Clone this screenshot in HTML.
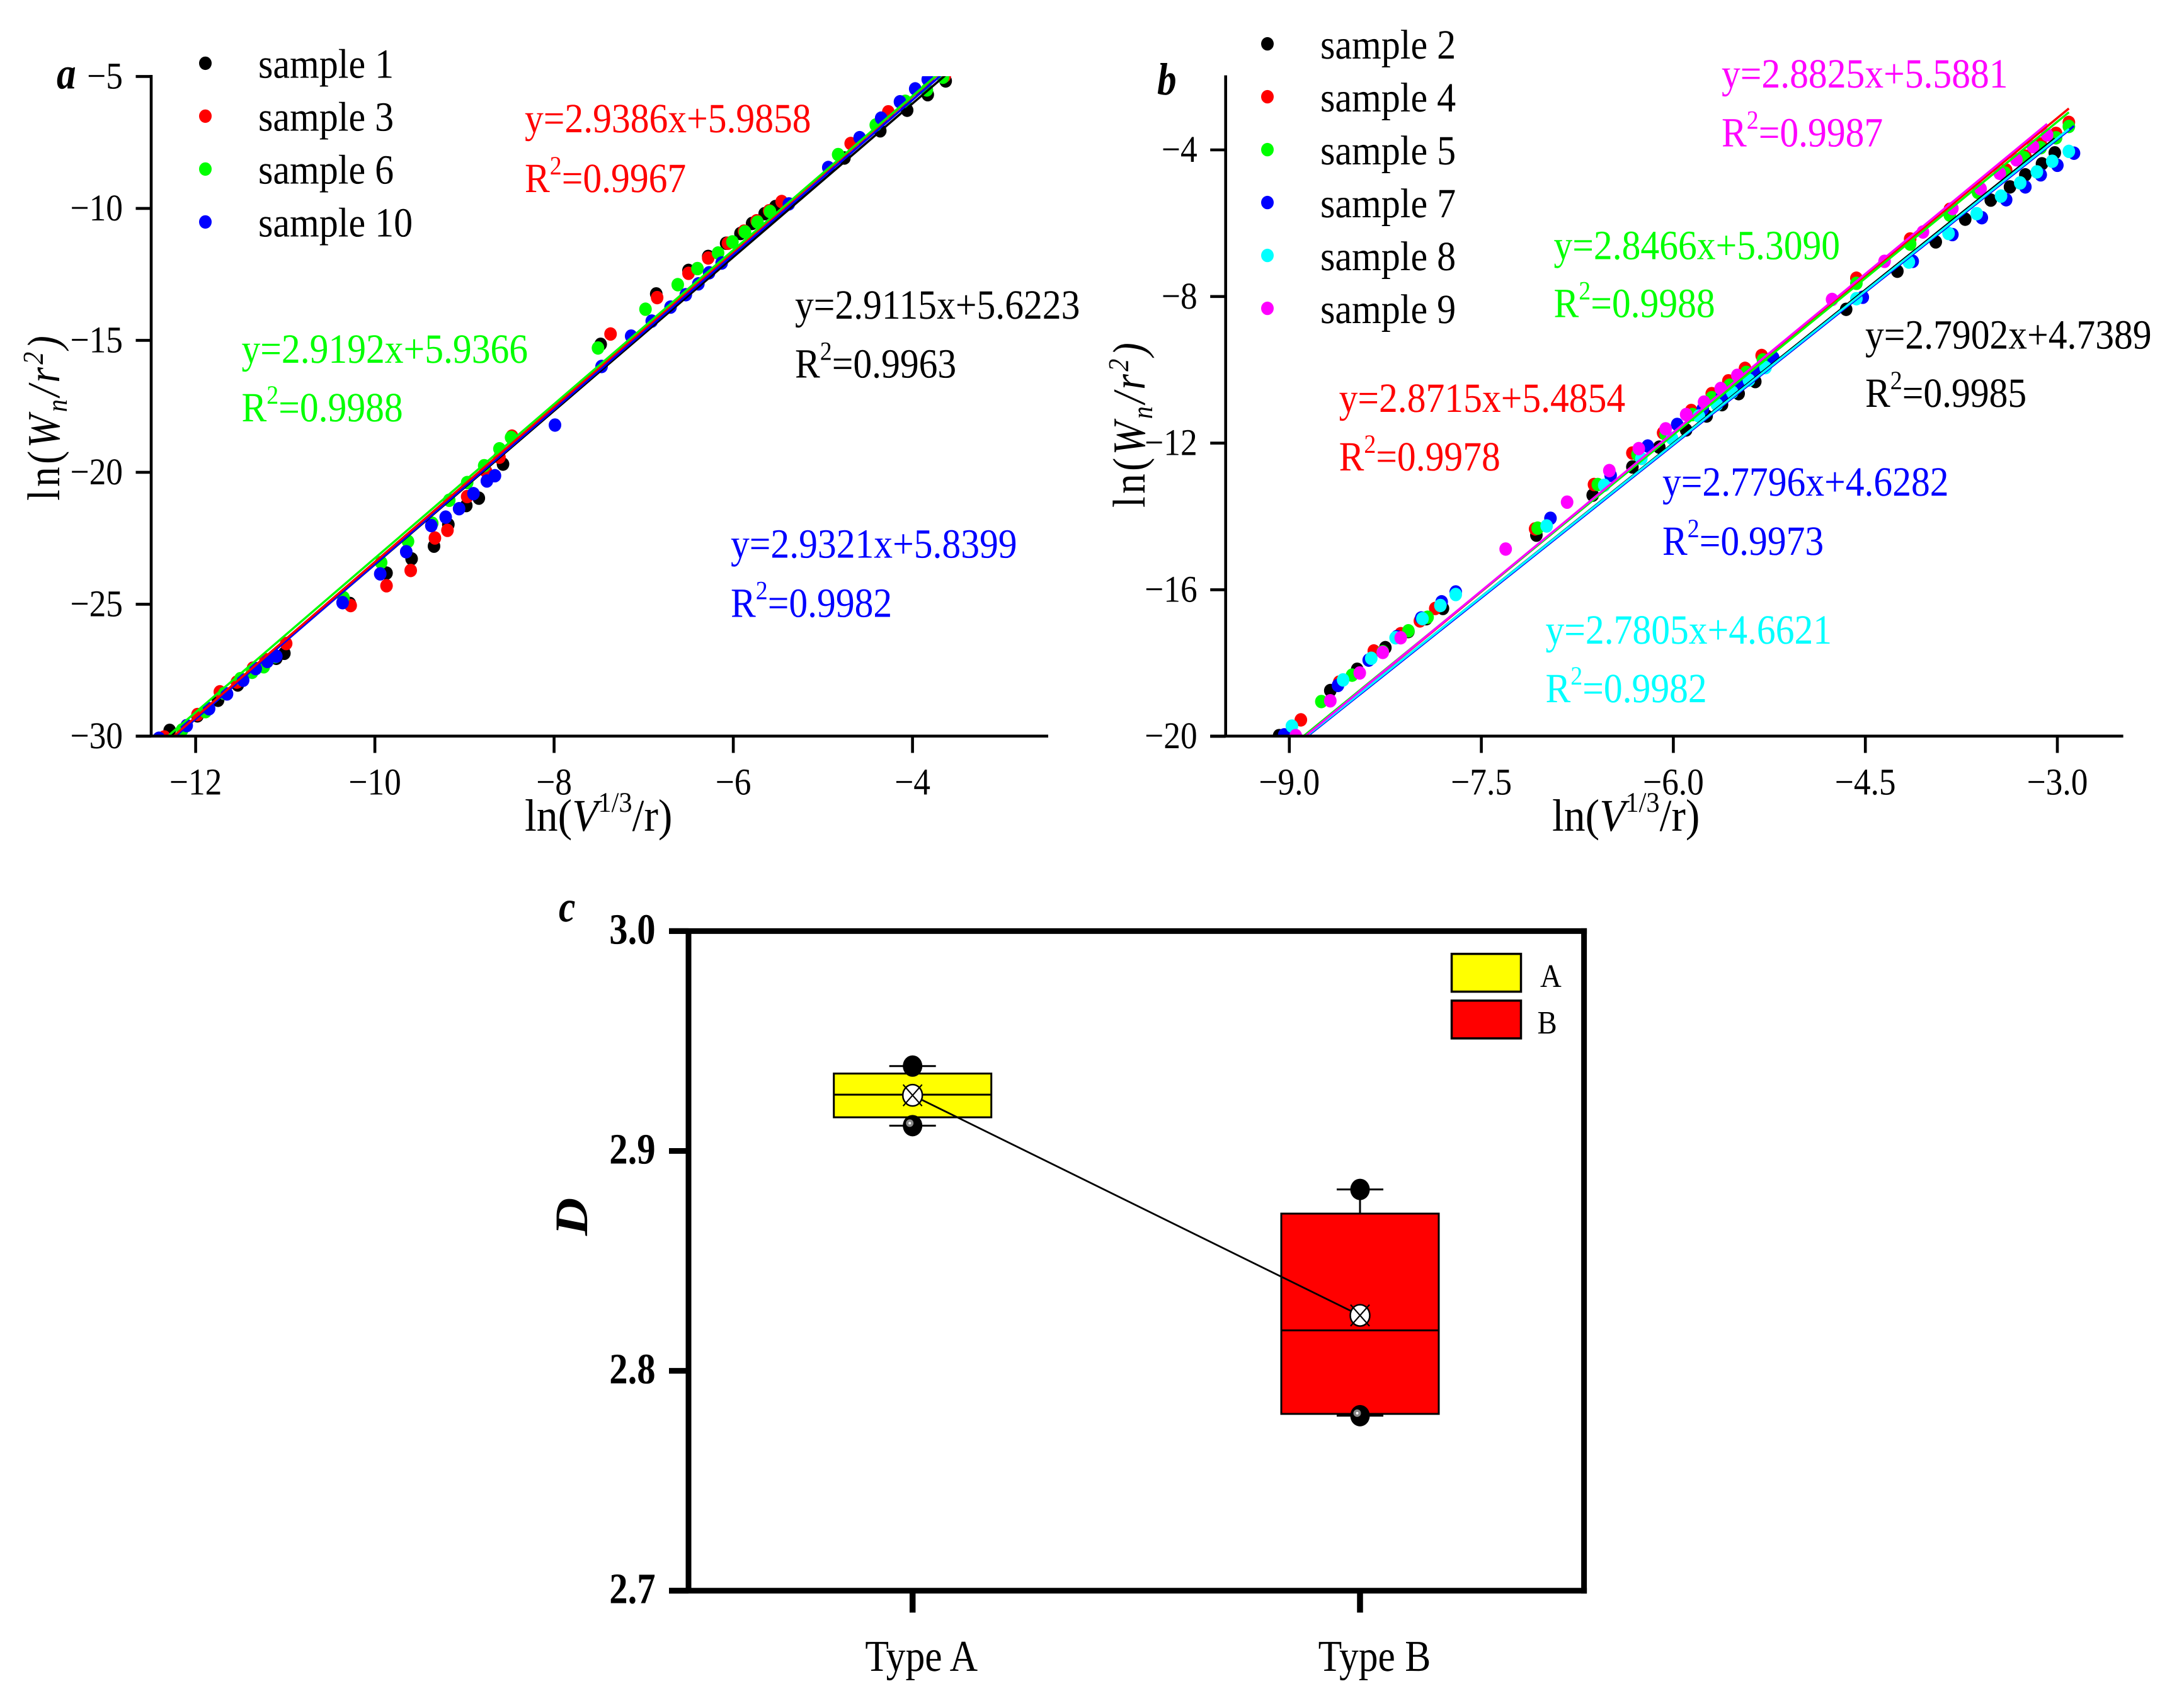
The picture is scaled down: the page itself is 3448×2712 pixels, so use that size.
<!DOCTYPE html>
<html lang="en">
<head>
<meta charset="utf-8">
<title>Fractal dimension fits and D box plot</title>
<style>
html,body{margin:0;padding:0;background:#fff;width:3448px;height:2712px;overflow:hidden}
svg{position:absolute;left:0;top:0;display:block}
text{font-family:"Liberation Serif",serif;fill:#000;text-rendering:geometricPrecision}
.n{font-size:66px}
.i{font-style:italic}
</style>
</head>
<body>
<svg id="fig" xmlns="http://www.w3.org/2000/svg" width="3448" height="2712" viewBox="0 0 3448 2712">
<defs>
<clipPath id="clipA"><rect x="238" y="121" width="1430" height="1048"/></clipPath>
<clipPath id="clipB"><rect x="1944" y="60" width="1430" height="1109"/></clipPath>
</defs>
<rect x="0" y="0" width="3448" height="2712" fill="#fff"/>

<g id="panelA"></g>
<g id="panelB"></g>
<g id="panelC"></g>

<text transform="translate(90,140.6) scale(.85,1)" font-size="72" font-weight="bold" font-style="italic">a</text>
<text transform="translate(1837,150) scale(.85,1)" font-size="72" font-weight="bold" font-style="italic">b</text>
<text transform="translate(887,1463) scale(.85,1)" font-size="70" font-weight="bold" font-style="italic">c</text>

<text transform="translate(94,795) rotate(-90) scale(.87,1)" font-size="73" letter-spacing="5">ln(<tspan class="i">W</tspan><tspan class="i" font-size="46" dy="12">n</tspan><tspan class="i" dy="-12">/r</tspan><tspan class="i" font-size="46" dy="-26">2</tspan><tspan dy="26" class="i">)</tspan></text>
<text transform="translate(1817,806) rotate(-90) scale(.87,1)" font-size="73" letter-spacing="5">ln(<tspan class="i">W</tspan><tspan class="i" font-size="46" dy="12">n</tspan><tspan class="i" dy="-12">/r</tspan><tspan class="i" font-size="46" dy="-26">2</tspan><tspan dy="26" class="i">)</tspan></text>
<text transform="translate(833,1319) scale(.94,1)" font-size="72">ln(<tspan class="i">V</tspan><tspan font-size="45" dy="-30">1/3</tspan><tspan dy="30">/r)</tspan></text>
<text transform="translate(2464,1319) scale(.94,1)" font-size="72">ln(<tspan class="i">V</tspan><tspan font-size="45" dy="-30">1/3</tspan><tspan dy="30">/r)</tspan></text>
<text transform="translate(932,1962) rotate(-90) scale(1.13,1)" font-size="74" font-weight="bold" font-style="italic">D</text>

<!-- panel a annotations -->
<g>
<text class="n" style="fill:#f00" transform="translate(833,210) scale(.903,1)">y=2.9386x+5.9858</text>
<text class="n" style="fill:#f00" transform="translate(833,305) scale(.903,1)">R<tspan font-size="42" dy="-28" style="fill:#f00">2</tspan><tspan dy="28" style="fill:#f00">=0.9967</tspan></text>
</g>
<g>
<text class="n" transform="translate(1262,506) scale(.903,1)">y=2.9115x+5.6223</text>
<text class="n" transform="translate(1262,599.6) scale(.903,1)">R<tspan font-size="42" dy="-28">2</tspan><tspan dy="28">=0.9963</tspan></text>
</g>
<g>
<text class="n" style="fill:#0f0" transform="translate(383.5,576) scale(.903,1)">y=2.9192x+5.9366</text>
<text class="n" style="fill:#0f0" transform="translate(383.5,669) scale(.903,1)">R<tspan font-size="42" dy="-28" style="fill:#0f0">2</tspan><tspan dy="28" style="fill:#0f0">=0.9988</tspan></text>
</g>
<g>
<text class="n" style="fill:#00f" transform="translate(1160,885.7) scale(.903,1)">y=2.9321x+5.8399</text>
<text class="n" style="fill:#00f" transform="translate(1160,979.5) scale(.903,1)">R<tspan font-size="42" dy="-28" style="fill:#00f">2</tspan><tspan dy="28" style="fill:#00f">=0.9982</tspan></text>
</g>

<!-- panel b annotations -->
<g>
<text class="n" style="fill:#f0f" transform="translate(2733,139) scale(.903,1)">y=2.8825x+5.5881</text>
<text class="n" style="fill:#f0f" transform="translate(2733,232.6) scale(.903,1)">R<tspan font-size="42" dy="-28" style="fill:#f0f">2</tspan><tspan dy="28" style="fill:#f0f">=0.9987</tspan></text>
</g>
<g>
<text class="n" style="fill:#0f0" transform="translate(2466.5,411.6) scale(.903,1)">y=2.8466x+5.3090</text>
<text class="n" style="fill:#0f0" transform="translate(2466.5,503.6) scale(.903,1)">R<tspan font-size="42" dy="-28" style="fill:#0f0">2</tspan><tspan dy="28" style="fill:#0f0">=0.9988</tspan></text>
</g>
<g>
<text class="n" transform="translate(2961,553.6) scale(.903,1)">y=2.7902x+4.7389</text>
<text class="n" transform="translate(2961,646) scale(.903,1)">R<tspan font-size="42" dy="-28">2</tspan><tspan dy="28">=0.9985</tspan></text>
</g>
<g>
<text class="n" style="fill:#f00" transform="translate(2125.6,654) scale(.903,1)">y=2.8715x+5.4854</text>
<text class="n" style="fill:#f00" transform="translate(2125.6,747) scale(.903,1)">R<tspan font-size="42" dy="-28" style="fill:#f00">2</tspan><tspan dy="28" style="fill:#f00">=0.9978</tspan></text>
</g>
<g>
<text class="n" style="fill:#00f" transform="translate(2639,787) scale(.903,1)">y=2.7796x+4.6282</text>
<text class="n" style="fill:#00f" transform="translate(2639,881) scale(.903,1)">R<tspan font-size="42" dy="-28" style="fill:#00f">2</tspan><tspan dy="28" style="fill:#00f">=0.9973</tspan></text>
</g>
<g>
<text class="n" style="fill:#0ff" transform="translate(2453.5,1022) scale(.903,1)">y=2.7805x+4.6621</text>
<text class="n" style="fill:#0ff" transform="translate(2453.5,1115) scale(.903,1)">R<tspan font-size="42" dy="-28" style="fill:#0ff">2</tspan><tspan dy="28" style="fill:#0ff">=0.9982</tspan></text>
</g>
</svg>

<script>
// ---------- Panel a data ----------
const sample1X = [-3.63,-3.83,-4.06,-4.36,-4.76,-5.53,-5.65,-5.79,-5.92,-6.08,-6.28,-6.50,-6.86,-7.48,-8.57,-8.84,-8.98,-9.18,-9.34,-9.59,-9.87,-10.28,-11.01,-11.10,-11.53,-11.75,-11.98,-12.29];
const sample1Y = [-5.17,-5.69,-6.28,-7.06,-8.09,-9.93,-10.20,-10.57,-10.95,-11.32,-11.82,-12.35,-13.24,-15.15,-19.69,-20.98,-21.26,-21.98,-22.80,-23.28,-23.82,-24.97,-26.86,-27.05,-28.06,-28.64,-29.23,-29.78];
const sample3X = [-3.64,-4.27,-4.69,-5.46,-5.60,-5.74,-5.88,-6.06,-6.28,-6.50,-6.85,-7.37,-8.47,-8.61,-8.76,-8.97,-9.19,-9.33,-9.60,-9.87,-10.27,-10.99,-11.22,-11.36,-11.54,-11.73,-11.98,-12.35];
const sample3Y = [-4.98,-6.34,-7.54,-9.74,-10.09,-10.47,-10.86,-11.32,-11.88,-12.46,-13.38,-14.76,-18.63,-19.43,-19.96,-20.92,-22.20,-22.49,-23.72,-24.30,-25.05,-26.49,-27.10,-27.42,-27.95,-28.32,-29.18,-30.03];
const sample6X = [-3.66,-3.84,-4.08,-4.41,-4.83,-5.59,-5.73,-5.87,-6.01,-6.17,-6.40,-6.62,-6.98,-7.51,-8.48,-8.61,-8.78,-8.97,-9.17,-9.36,-9.63,-9.93,-10.35,-11.11,-11.24,-11.37,-11.50,-11.68,-11.89,-12.15];
const sample6Y = [-5.03,-5.51,-5.94,-6.84,-7.96,-10.12,-10.52,-10.89,-11.27,-11.69,-12.28,-12.89,-13.82,-15.29,-18.68,-19.11,-19.75,-20.39,-21.06,-21.93,-22.62,-23.42,-24.75,-26.99,-27.37,-27.58,-27.82,-28.38,-29.07,-29.76];
const sample10X = [-3.83,-3.97,-4.14,-4.35,-4.59,-4.94,-5.38,-6.13,-6.27,-6.39,-6.53,-6.70,-6.91,-7.14,-7.47,-7.99,-8.66,-8.75,-8.90,-9.06,-9.21,-9.37,-9.65,-9.94,-10.36,-11.10,-11.20,-11.33,-11.47,-11.65,-11.85,-12.10,-12.41];
const sample10Y = [-5.11,-5.47,-5.96,-6.58,-7.32,-8.45,-9.83,-12.07,-12.44,-12.86,-13.27,-13.74,-14.27,-14.84,-15.99,-18.21,-20.13,-20.33,-20.81,-21.38,-21.70,-22.02,-23.01,-23.85,-24.94,-26.97,-27.17,-27.44,-27.88,-28.40,-28.96,-29.60,-30.08];
const namesA = ['sample 1','sample 3','sample 6','sample 10'];
const colorsA = ['#000','#f00','#0f0','#00f'];
const slopesA = [2.9115,2.9386,2.9192,2.9321];
const interceptsA = [5.6223,5.9858,5.9366,5.8399];
const xTicksA = [-12,-10,-8,-6,-4];
const xTickLabelsA = ['\u221212','\u221210','\u22128','\u22126','\u22124'];
const yTicksA = [-5,-10,-15,-20,-25,-30];
const yTickLabelsA = ['\u22125','\u221210','\u221215','\u221220','\u221225','\u221230'];

// ---------- Panel b data ----------
const sample2X = [-3.02,-3.12,-3.25,-3.37,-3.52,-3.72,-3.95,-4.25,-4.65,-5.36,-5.49,-5.62,-5.74,-5.90,-6.11,-6.32,-6.63,-7.07,-7.80,-7.93,-8.07,-8.25,-8.47,-8.68,-9.08];
const sample2Y = [-4.08,-4.38,-4.68,-5.01,-5.37,-5.89,-6.51,-7.31,-8.35,-10.32,-10.65,-10.95,-11.26,-11.64,-12.11,-12.65,-13.42,-14.51,-16.51,-16.79,-17.14,-17.58,-18.17,-18.75,-19.98];
const sample4X = [-2.91,-3.01,-3.13,-3.25,-3.40,-3.61,-3.84,-4.15,-4.57,-5.31,-5.44,-5.57,-5.70,-5.86,-6.08,-6.32,-6.62,-7.08,-7.86,-7.98,-8.13,-8.34,-8.61,-8.91];
const sample4Y = [-3.25,-3.55,-3.84,-4.17,-4.55,-5.05,-5.62,-6.43,-7.50,-9.61,-9.96,-10.30,-10.65,-11.11,-11.72,-12.27,-13.13,-14.34,-16.51,-16.85,-17.20,-17.67,-18.52,-19.55];
const sample5X = [-2.91,-3.01,-3.13,-3.26,-3.41,-3.62,-3.84,-4.15,-4.57,-5.30,-5.43,-5.56,-5.70,-5.85,-6.06,-6.28,-6.59,-7.06,-7.92,-8.07,-8.27,-8.51,-8.75];
const sample5Y = [-3.36,-3.67,-3.94,-4.21,-4.63,-5.16,-5.78,-6.57,-7.64,-9.73,-10.07,-10.42,-10.76,-11.22,-11.76,-12.31,-13.13,-14.32,-16.75,-17.12,-17.69,-18.33,-19.05];
const sample7X = [-2.87,-3.00,-3.13,-3.25,-3.40,-3.59,-3.82,-4.13,-4.52,-5.22,-5.35,-5.48,-5.62,-5.77,-5.97,-6.20,-6.49,-6.96,-7.70,-7.81,-7.97,-8.16,-8.38,-8.62,-9.04];
const sample7Y = [-4.09,-4.42,-4.68,-5.01,-5.36,-5.85,-6.31,-7.04,-8.02,-9.67,-10.03,-10.38,-10.72,-11.07,-11.49,-12.08,-12.88,-14.05,-16.06,-16.33,-16.77,-17.28,-17.92,-18.61,-19.96];
const sample8X = [-2.91,-3.04,-3.16,-3.29,-3.44,-3.63,-3.85,-4.16,-4.57,-5.28,-5.41,-5.54,-5.66,-5.80,-6.01,-6.25,-6.54,-6.99,-7.70,-7.82,-7.96,-8.17,-8.36,-8.58,-8.98];
const sample8Y = [-4.04,-4.31,-4.60,-4.90,-5.26,-5.74,-6.28,-7.06,-8.06,-9.94,-10.28,-10.61,-10.95,-11.26,-11.87,-12.42,-13.15,-14.26,-16.13,-16.43,-16.79,-17.31,-17.87,-18.46,-19.72];
const sample9X = [-3.08,-3.19,-3.32,-3.45,-3.60,-3.82,-4.05,-4.35,-4.76,-5.50,-5.63,-5.76,-5.90,-6.06,-6.27,-6.50,-6.83,-7.31,-8.13,-8.27,-8.45,-8.68,-8.95];
const sample9Y = [-3.59,-3.91,-4.27,-4.64,-5.06,-5.60,-6.24,-7.04,-8.08,-10.15,-10.51,-10.88,-11.22,-11.61,-12.15,-12.75,-13.61,-14.89,-17.31,-17.71,-18.27,-19.03,-19.98];
const namesB = ['sample 2','sample 4','sample 5','sample 7','sample 8','sample 9'];
const colorsB = ['#000','#f00','#0f0','#00f','#0ff','#f0f'];
const slopesB = [2.7902,2.8715,2.8466,2.7796,2.7805,2.8825];
const interceptsB = [4.7389,5.4854,5.3090,4.6282,4.6621,5.5881];
const xTicksB = [-9,-7.5,-6,-4.5,-3];
const xTickLabelsB = ['\u22129.0','\u22127.5','\u22126.0','\u22124.5','\u22123.0'];
const yTicksB = [-4,-8,-12,-16,-20];
const yTickLabelsB = ['\u22124','\u22128','\u221212','\u221216','\u221220'];

// ---------- Panel c data ----------
const categoriesC = ['Type A','Type B'];
const boxMin = [2.9115,2.7796];
const boxQ1 = [2.9153,2.7804];
const boxMedian = [2.9256,2.8184];
const boxQ3 = [2.9352,2.8715];
const boxMax = [2.9386,2.8825];
const boxMean = [2.9253,2.8252];
const boxColors = ['#ff0','#f00'];
const yTicksC = [3.0,2.9,2.8,2.7];
const yTickLabelsC = ['3.0','2.9','2.8','2.7'];
const legendC = ['A','B'];

// ---------- Axis functions ----------
const xA = v => 310.6 + (v + 12) * 142.25;
const yA = v => 121.4 + (-5 - v) * 41.9;
const xB = v => 3266 + (v + 3) * 203.2;
const yB = v => 238 + (-4 - v) * 58.2;
const xC = i => 1448.7 + i * 710.3;
const yC = v => 2525.7 - (v - 2.7) * 3491;

const NS = 'http://www.w3.org/2000/svg';
function svgEl(tag, attrs, parent) {
  const el = document.createElementNS(NS, tag);
  for (const k in attrs) el.setAttribute(k, attrs[k]);
  parent.appendChild(el);
  return el;
}
function label(parent, str, x, y, size, sx, anchor, weight) {
  const t = svgEl('text', {transform: 'translate(' + x + ',' + y + ') scale(' + sx + ',1)', 'font-size': size, 'text-anchor': anchor, 'font-weight': weight || 'normal'}, parent);
  t.textContent = str;
  return t;
}

function drawScatterPanel(root, cfg) {
  const pts = svgEl('g', {'clip-path': cfg.clip}, root);
  
  
  cfg.series.forEach((s, i) => {
    for (let k = 0; k < s.x.length; k++) {
      const dot = svgEl('ellipse', {cx: cfg.xf(s.x[k]), cy: cfg.yf(s.y[k]), rx: 10, ry: 10.7, fill: cfg.colors[i]}, pts);
      
      
    }
  });
  const lines = svgEl('g', {'clip-path': cfg.clip}, root);
  
  
  cfg.lineOrder.forEach(i => {
    const x1 = cfg.lineStart, x2 = cfg.lineEnd === null ? Math.max.apply(null, cfg.series[i].x) : cfg.lineEnd;
    const ln = svgEl('line', {x1: cfg.xf(x1), y1: cfg.yf(cfg.slopes[i] * x1 + cfg.intercepts[i]), x2: cfg.xf(x2), y2: cfg.yf(cfg.slopes[i] * x2 + cfg.intercepts[i]), stroke: cfg.colors[i], 'stroke-width': 3.5}, lines);
    
    
  });

  const yAxis = svgEl('line', {x1: cfg.axisX, y1: cfg.axisTop, x2: cfg.axisX, y2: 1171, stroke: '#000', 'stroke-width': 4.6}, root);
  
  
  const xAxis = svgEl('line', {x1: cfg.axisX - 24.5, y1: 1168.8, x2: cfg.axisEnd, y2: 1168.8, stroke: '#000', 'stroke-width': 4.6}, root);
  
  

  cfg.yTicks.forEach((v, i) => {
    const tk = svgEl('line', {x1: cfg.axisX - 24.5, y1: cfg.yf(v), x2: cfg.axisX, y2: cfg.yf(v), stroke: '#000', 'stroke-width': 4.6}, root);
    
    
    const lb = label(root, cfg.yLabels[i], cfg.axisX - 45, cfg.yf(v) + 19, 60, .89, 'end');
    
    
  });
  cfg.xTicks.forEach((v, i) => {
    const tk = svgEl('line', {x1: cfg.xf(v), y1: 1168.8, x2: cfg.xf(v), y2: 1195.5, stroke: '#000', 'stroke-width': 4.6}, root);
    
    
    const lb = label(root, cfg.xLabels[i], cfg.xf(v), 1261.6, 60, .89, 'middle');
    
    
  });
  cfg.names.forEach((n, i) => {
    const cy = cfg.legY + i * 84;
    const m = svgEl('ellipse', {cx: cfg.legX, cy: cy, rx: 10, ry: 10.7, fill: cfg.colors[i]}, root);
    
    
    const t = label(root, n, cfg.legTextX, cy + 23.3, 66, .91, 'start');
    
    
  });
}

drawScatterPanel(document.getElementById('panelA'), {
  clip: 'url(#clipA)', xf: xA, yf: yA,
  series: [{x: sample1X, y: sample1Y}, {x: sample3X, y: sample3Y}, {x: sample6X, y: sample6Y}, {x: sample10X, y: sample10Y}],
  names: namesA, colors: colorsA, slopes: slopesA, intercepts: interceptsA,
  lineOrder: [0, 3, 1, 2], lineStart: -12.6, lineEnd: -3.5,
  axisX: 240, axisTop: 119, axisEnd: 1664,
  xTicks: xTicksA, xLabels: xTickLabelsA, yTicks: yTicksA, yLabels: yTickLabelsA,
  legX: 326, legY: 100.4, legTextX: 410
});
drawScatterPanel(document.getElementById('panelB'), {
  clip: 'url(#clipB)', xf: xB, yf: yB,
  series: [{x: sample2X, y: sample2Y}, {x: sample4X, y: sample4Y}, {x: sample5X, y: sample5Y}, {x: sample7X, y: sample7Y}, {x: sample8X, y: sample8Y}, {x: sample9X, y: sample9Y}],
  names: namesB, colors: colorsB, slopes: slopesB, intercepts: interceptsB,
  lineOrder: [0, 1, 2, 3, 4, 5], lineStart: -9.3, lineEnd: null,
  axisX: 1945.7, axisTop: 119.6, axisEnd: 3370.6,
  xTicks: xTicksB, xLabels: xTickLabelsB, yTicks: yTicksB, yLabels: yTickLabelsB,
  legX: 2012, legY: 69.6, legTextX: 2096
});

// ---------- Panel c ----------
(function () {
  const root = document.getElementById('panelC');
  const L = 1093, R = 2514.6, T = yC(3.0), B = yC(2.7);

  const meanLine = [];
  categoriesC.forEach((c, i) => {
    const cx = xC(i);
    const box = svgEl('g', {}, root);
    
    
    svgEl('line', {x1: cx, y1: yC(boxMax[i]), x2: cx, y2: yC(boxQ3[i]), stroke: '#000', 'stroke-width': 3}, box);
    svgEl('line', {x1: cx, y1: yC(boxMin[i]), x2: cx, y2: yC(boxQ1[i]), stroke: '#000', 'stroke-width': 3}, box);
    svgEl('line', {x1: cx - 37, y1: yC(boxMax[i]), x2: cx + 37, y2: yC(boxMax[i]), stroke: '#000', 'stroke-width': 3}, box);
    svgEl('line', {x1: cx - 37, y1: yC(boxMin[i]), x2: cx + 37, y2: yC(boxMin[i]), stroke: '#000', 'stroke-width': 3}, box);
    svgEl('rect', {x: cx - 125, y: yC(boxQ3[i]), width: 250, height: yC(boxQ1[i]) - yC(boxQ3[i]), fill: boxColors[i], stroke: '#000', 'stroke-width': 3}, box);
    svgEl('line', {x1: cx - 125, y1: yC(boxMedian[i]), x2: cx + 125, y2: yC(boxMedian[i]), stroke: '#000', 'stroke-width': 3}, box);
    svgEl('ellipse', {cx: cx, cy: yC(boxMax[i]), rx: 15.5, ry: 17, fill: '#000'}, box);
    svgEl('ellipse', {cx: cx, cy: yC(boxMin[i]), rx: 15.5, ry: 17, fill: '#000'}, box);
    svgEl('ellipse', {cx: cx - 4.5, cy: yC(boxMin[i]) - 4, rx: 6, ry: 6, fill: '#888'}, box);
    svgEl('ellipse', {cx: cx - 4.5, cy: yC(boxMin[i]) - 4, rx: 2, ry: 2, fill: '#fff'}, box);
    meanLine.push([cx, yC(boxMean[i])]);
  });

  const conn = svgEl('line', {x1: meanLine[0][0], y1: meanLine[0][1], x2: meanLine[1][0], y2: meanLine[1][1], stroke: '#000', 'stroke-width': 2.8}, root);
  
  

  meanLine.forEach((p) => {
    const m = svgEl('g', {}, root);
    
    
    svgEl('ellipse', {cx: p[0], cy: p[1], rx: 15.5, ry: 17, fill: '#fff', stroke: '#000', 'stroke-width': 2.5}, m);
    svgEl('line', {x1: p[0] - 15, y1: p[1] - 17, x2: p[0] + 15, y2: p[1] + 17, stroke: '#000', 'stroke-width': 2.2}, m);
    svgEl('line', {x1: p[0] + 15, y1: p[1] - 17, x2: p[0] - 15, y2: p[1] + 17, stroke: '#000', 'stroke-width': 2.2}, m);
  });

  const frame = svgEl('g', {stroke: '#000', 'stroke-width': 9}, root);
  
  
  svgEl('line', {x1: L, y1: T - 4, x2: L, y2: B + 4}, frame);
  svgEl('line', {x1: R, y1: T - 4.5, x2: R, y2: B + 4.5}, frame);
  svgEl('line', {x1: 1062, y1: T, x2: R + 4.5, y2: T}, frame);
  svgEl('line', {x1: 1062, y1: B, x2: R + 4.5, y2: B}, frame);

  yTicksC.forEach((v, i) => {
    const tk = svgEl('line', {x1: 1062, y1: yC(v), x2: L, y2: yC(v), stroke: '#000', 'stroke-width': 9}, root);
    
    
    const lb = label(root, yTickLabelsC[i], 1040.6, yC(v) + 20, 69, .85, 'end', 'bold');
    
    
  });
  categoriesC.forEach((c, i) => {
    const tk = svgEl('line', {x1: xC(i), y1: B, x2: xC(i), y2: 2560.5, stroke: '#000', 'stroke-width': 9.5}, root);
    
    
    const lb = label(root, c, xC(i) + 14 + i * 9, 2653, 70, .88, 'middle');
    
    
  });
  legendC.forEach((n, i) => {
    const sw = svgEl('rect', {x: 2304.5, y: 1514.6 + i * 74.2, width: 110, height: 60, fill: boxColors[i], stroke: '#000', 'stroke-width': 3.5}, root);
    
    
    const t = label(root, n, 2445 - i * 4.5, 1567 + i * 74, 52, .9, 'start');
    
    
  });
})();
</script>
</body>
</html>
